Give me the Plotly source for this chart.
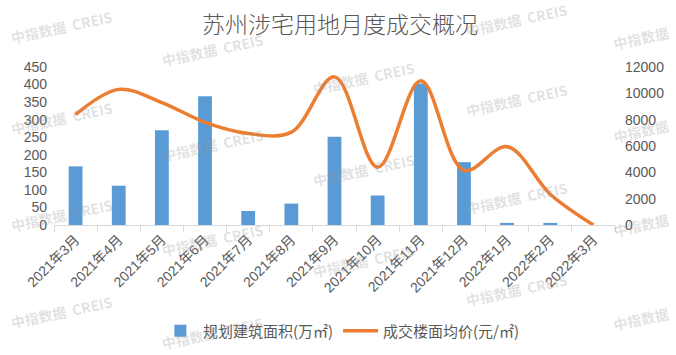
import plotly.graph_objects as go

categories = ["2021年3月", "2021年4月", "2021年5月", "2021年6月", "2021年7月", "2021年8月",
              "2021年9月", "2021年10月", "2021年11月", "2021年12月", "2022年1月", "2022年2月", "2022年3月"]
area = [167, 112, 270, 367, 40, 61, 251, 84, 403, 179, 6, 6, 0]
price = [8380, 10300, 9300, 7800, 6950, 7050, 11250, 4380, 10950, 4150, 5950, 2340, 0]
left_ticks = [0, 50, 100, 150, 200, 250, 300, 350, 400, 450]
right_ticks = [0, 2000, 4000, 6000, 8000, 10000, 12000]
right_labels = ["0", "2000", "4000", "6000", "8000", "10000", "12000"]

FONT = "Liberation Sans, Noto Sans CJK SC, sans-serif"
CJK = "Noto Sans CJK SC, sans-serif"
GREY = "#595959"

W, H = 676, 355
L, R, T, B = 54, 59, 67, 129.5
pw, ph = W - L - R, H - T - B

fig = go.Figure()
fig.add_trace(go.Bar(x=categories, y=area, name="规划建筑面积(万㎡)",
                     marker=dict(color="#5B9BD5", line=dict(width=0)), yaxis="y"))
fig.add_trace(go.Scatter(x=categories, y=price, name="成交楼面均价(元/㎡)", mode="lines",
                         line=dict(color="#ED7D31", width=3.5, shape="spline", smoothing=1.0),
                         yaxis="y2", cliponaxis=False))

# watermarks (pixel centres, text)
full = "<b>中指数据  CREIS</b>"
short = "<b>中指数据</b>"
wm = [(62, 27, full), (62, 118, full), (62, 215, full), (62, 313, full),
      (213, 50, full), (213, 145, full), (213, 241, full), (213, 334, full),
      (365, 78, full), (365, 170, full), (365, 262, full),
      (518, 20, full), (518, 100, full), (518, 198, full), (518, 291, full),
      (643, 38, short), (643, 131, short), (643, 225, short), (643, 320, short)]
annotations = []
for px, py, t in wm:
    annotations.append(dict(x=(px - L) / pw, y=(H - B - py) / ph, xref="paper", yref="paper",
                            text=t, showarrow=False, textangle=-12,
                            font=dict(family=CJK, size=14, color="rgba(150,150,150,0.28)"),
                            xanchor="center", yanchor="middle"))

fig.update_layout(
    width=W, height=H,
    margin=dict(l=L, r=R, t=T, b=B, pad=0),
    paper_bgcolor="white", plot_bgcolor="white",
    title=dict(text="苏州涉宅用地月度成交概况", x=0.503, xref="container", y=1 - 25 / H,
               yref="container", xanchor="center", yanchor="middle",
               font=dict(family=CJK, size=23, color=GREY, weight=300)),
    bargap=0.68,
    showlegend=True,
    legend=dict(orientation="h", xref="container", x=0.505, xanchor="center",
                yref="container", y=1 - 331 / H, yanchor="middle",
                font=dict(family=CJK, size=15, color=GREY), itemwidth=35,
                bgcolor="rgba(0,0,0,0)", tracegroupgap=0),
    xaxis=dict(type="category", tickangle=-45, tickson="boundaries", ticks="outside",
               ticklen=6, tickcolor="#D9D9D9", showline=True, linecolor="#D9D9D9", linewidth=1,
               showgrid=False, tickfont=dict(family=FONT, size=14, color=GREY), zeroline=False),
    yaxis=dict(range=[0, 450], tickvals=left_ticks, showgrid=False, zeroline=False,
               showline=False, tickfont=dict(family=FONT, size=14, color=GREY), ticks="",
               ticklabelstandoff=6),
    yaxis2=dict(range=[0, 12000], tickvals=right_ticks, ticktext=right_labels, overlaying="y",
                side="right", showgrid=False, zeroline=False, showline=False,
                tickfont=dict(family=FONT, size=14, color=GREY), ticks="",
                ticklabelstandoff=9),
    annotations=annotations,
)

fig.write_html("out.html")
